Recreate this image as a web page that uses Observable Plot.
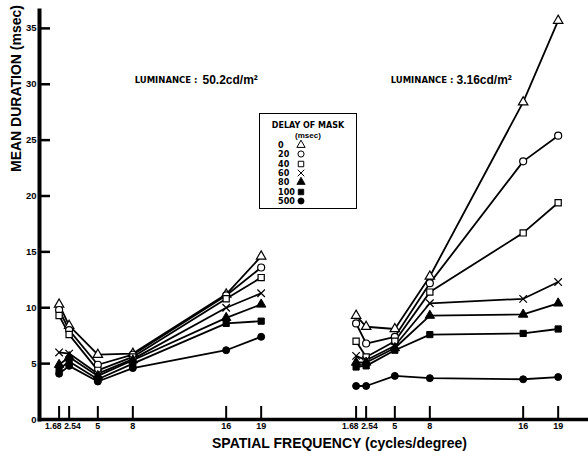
<!DOCTYPE html>
<html>
<head>
<meta charset="utf-8">
<script src="https://cdn.jsdelivr.net/npm/d3@7"></script>
<script src="https://cdn.jsdelivr.net/npm/@observablehq/plot@0.6"></script>
<style>
  body { margin: 0; background: #fff; font-family: "Liberation Sans", Arial, sans-serif; }
  #wrap { position: relative; width: 588px; height: 451px; overflow: hidden; }
  #legend { position: absolute; left: 259px; top: 113px; width: 96px; height: 94px;
            border: 1.6px solid #000; background: #fff; color: #000; font-weight: bold; }
  #legend .lt { position: absolute; left: 0; width: 100%; top: 7px; text-align: center;
                font: bold 8px "DejaVu Sans", sans-serif; }
  #legend .ls { position: absolute; left: 0; width: 100%; top: 17px; text-align: center;
                font: bold 8px "Liberation Sans", sans-serif; }
  #legend .row { position: absolute; left: 18px; height: 10px; font: bold 9px "DejaVu Sans Condensed", "DejaVu Sans", sans-serif; line-height: 10px; }
  #legend .row svg { position: absolute; left: 18px; top: 0; }
</style>
</head>
<body>
<div id="wrap">
  <div id="chart"></div>
  <div id="legend"></div>
</div>
<script>
// Spatial frequency (cycles/degree) at which durations were measured
const frequencies = [1.68, 2.54, 5, 8, 16, 19];
// Delay of mask (msec)
const maskDelays = [0, 20, 40, 60, 80, 100, 500];
const panels = ["50.2", "3.16"];
const luminanceTexts = ["50.2cd/m²", "3.16cd/m²"];
const xTicks = [1.68, 2.54, 5, 8, 16, 19];
const yTicks = [0, 5, 10, 15, 20, 25, 30, 35];
const symbolNames = ["triangle", "circle", "square", "times", "triangle", "square", "circle"];
const symbolFilled = [false, false, false, false, true, true, true];

// Mean duration (msec), luminance 50.2 cd/m2 — one row per mask delay
const dur0_high   = [10.3, 8.4, 5.8, 5.9, 11.2, 14.6];
const dur20_high  = [9.8, 8.0, 4.9, 5.8, 11.1, 13.6];
const dur40_high  = [9.3, 7.6, 4.4, 5.6, 10.8, 12.7];
const dur60_high  = [6.0, 5.9, 4.1, 5.4, 10.0, 11.3];
const dur80_high  = [4.9, 5.6, 3.9, 5.3, 9.1, 10.3];
const dur100_high = [4.5, 5.2, 3.6, 5.0, 8.6, 8.8];
const dur500_high = [4.1, 4.8, 3.4, 4.6, 6.2, 7.4];

// Mean duration (msec), luminance 3.16 cd/m2
const dur0_low   = [9.3, 8.3, 8.1, 12.8, 28.4, 35.7];
const dur20_low  = [8.6, 6.8, 7.4, 12.2, 23.1, 25.4];
const dur40_low  = [7.0, 5.6, 7.0, 11.4, 16.7, 19.4];
const dur60_low  = [5.7, 5.3, 6.6, 10.4, 10.8, 12.3];
const dur80_low  = [5.1, 5.1, 6.4, 9.3, 9.4, 10.4];
const dur100_low = [4.7, 4.8, 6.2, 7.6, 7.7, 8.1];
const dur500_low = [3.0, 3.0, 3.9, 3.7, 3.6, 3.8];

const tables = [
  [dur0_high, dur20_high, dur40_high, dur60_high, dur80_high, dur100_high, dur500_high],
  [dur0_low, dur20_low, dur40_low, dur60_low, dur80_low, dur100_low, dur500_low]
];

const rows = [];
tables.forEach((tbl, p) => tbl.forEach((vals, i) => vals.forEach((v, j) =>
  rows.push({panel: panels[p], delay: maskDelays[i], freq: frequencies[j], dur: v, filled: symbolFilled[i]}))));

const font = {fontFamily: "Liberation Sans, Arial, sans-serif", fontWeight: "bold"};
const smallFont = {fontFamily: "DejaVu Sans, sans-serif", fontWeight: "bold"};
const fmt = d => String(d);

const chart = Plot.plot({
  width: 588,
  height: 451,
  marginLeft: 39,
  marginRight: 0,
  marginTop: 10,
  marginBottom: 32,
  style: {fontFamily: "Liberation Sans, Arial, sans-serif", color: "#000", background: "#fff", overflow: "visible"},
  fx: {domain: panels, paddingInner: 0.153, paddingOuter: 0, axis: null, label: null},
  x: {domain: [0, 21.6]},
  y: {domain: [0, 36.6]},
  symbol: {domain: maskDelays, range: symbolNames},
  marks: [
    Plot.frame({anchor: "bottom", facet: "super", strokeWidth: 3.5}),
    Plot.frame({anchor: "left", facet: "super", strokeWidth: 4}),
    Plot.axisY(yTicks, {tickSize: -11, tickPadding: 14, strokeWidth: 2.5, fontSize: 9.5, ...font, label: null, tickFormat: fmt}),
    Plot.axisX(xTicks, {tickSize: -13, tickPadding: 16, strokeWidth: 2, fontSize: 9, ...font, label: null,
      tickFormat: d => (d === 1.68 || d === 2.54) ? "" : String(d)}),
    Plot.axisX([1.68], {tickSize: 0, tickPadding: 3, textAnchor: "end", dx: 2.5, fontSize: 8.5, ...font, label: null, tickFormat: fmt}),
    Plot.axisX([2.54], {tickSize: 0, tickPadding: 3, textAnchor: "start", dx: -5, fontSize: 8.5, ...font, label: null, tickFormat: fmt}),
    Plot.line(rows, {x: "freq", y: "dur", z: "delay", fx: "panel", stroke: "black", strokeWidth: 1.8}),
    Plot.dot(rows, {filter: d => !d.filled, x: "freq", y: "dur", fx: "panel", symbol: "delay",
      fill: "white", stroke: "black", strokeWidth: 1.2, r: 3.5}),
    Plot.dot(rows, {filter: d => d.filled, x: "freq", y: "dur", fx: "panel", symbol: "delay",
      fill: "black", stroke: "black", strokeWidth: 1, r: 3.5}),
    // luminance annotations
    Plot.text(["LUMINANCE :"], {fx: [panels[0]], frameAnchor: "top-left", dx: 158, dy: 72,
      textAnchor: "end", lineAnchor: "bottom", fontSize: 8.5, ...smallFont}),
    Plot.text([luminanceTexts[0]], {fx: [panels[0]], frameAnchor: "top-left", dx: 163, dy: 73,
      textAnchor: "start", lineAnchor: "bottom", fontSize: 12, ...font}),
    Plot.text(["LUMINANCE :"], {fx: [panels[1]], frameAnchor: "top-left", dx: 117, dy: 72,
      textAnchor: "end", lineAnchor: "bottom", fontSize: 8.5, ...smallFont}),
    Plot.text([luminanceTexts[1]], {fx: [panels[1]], frameAnchor: "top-left", dx: 120, dy: 73,
      textAnchor: "start", lineAnchor: "bottom", fontSize: 12, ...font}),
    // axis titles
    Plot.text(["MEAN DURATION (msec)"], {fx: [panels[0]], frameAnchor: "left", rotate: -90,
      dx: -23, dy: -43, fontSize: 14, ...font}),
    Plot.text(["SPATIAL FREQUENCY (cycles/degree)"], {fx: [panels[0]], frameAnchor: "bottom-left",
      textAnchor: "middle", lineAnchor: "bottom", dx: 300, dy: 28, fontSize: 14, ...font})
  ]
});
document.getElementById("chart").appendChild(chart);

// Legend
const legend = document.getElementById("legend");
legend.innerHTML = '<div class="lt">DELAY OF MASK</div><div class="ls">(msec)</div>';
const symbolMap = {triangle: d3.symbolTriangle, circle: d3.symbolCircle, square: d3.symbolSquare, times: d3.symbolTimes};
maskDelays.forEach((dl, i) => {
  const row = document.createElement("div");
  row.className = "row";
  row.style.top = (26 + i * 9.3) + "px";
  row.textContent = dl;
  const path = d3.symbol(symbolMap[symbolNames[i]], 30)();
  const f = symbolFilled[i];
  row.innerHTML += `<svg width="10" height="10" viewBox="-5 -5 10 10"><path d="${path}" fill="${f ? "black" : "white"}" stroke="black" stroke-width="${f ? 0.8 : 1}"/></svg>`;
  legend.appendChild(row);
});
</script>
</body>
</html>
